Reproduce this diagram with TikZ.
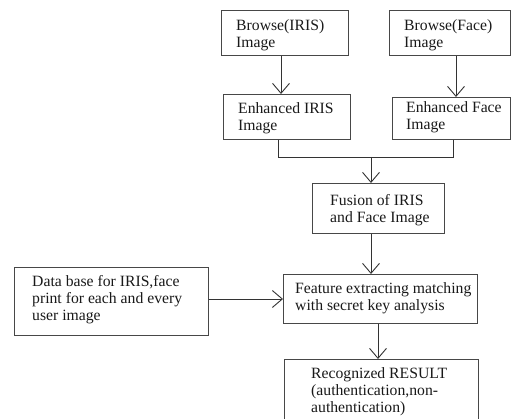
\documentclass[tikz,border=0pt]{standalone}
\usepackage{fontspec}
\setmainfont{Liberation Serif}
\usetikzlibrary{arrows.meta}
\begin{document}
\begin{tikzpicture}[x=1pt,y=-1pt,
  box/.style={draw=black!72, line width=1pt, inner sep=0pt, anchor=north west},
  label/.style={anchor=north west, inner sep=0pt, align=left,
    font=\fontsize{15.7pt}{17pt}\selectfont, text=black!90},
  link/.style={draw=black!80, line width=0.9pt},
  arr/.style={link, -{Straight Barb[length=10pt, width=17pt]}}]
\useasboundingbox (0,0) rectangle (511,419);

% boxes
\node[box, minimum width=127pt, minimum height=45pt] (bi) at (221,10) {};
\node[box, minimum width=121pt, minimum height=45pt] (bf) at (389,10) {};
\node[box, minimum width=127pt, minimum height=45pt] (ei) at (223,94) {};
\node[box, minimum width=118pt, minimum height=42pt] (ef) at (392,97) {};
\node[box, minimum width=132pt, minimum height=50pt] (fu) at (312,183) {};
\node[box, minimum width=194pt, minimum height=49pt] (fe) at (283,274) {};
\node[box, minimum width=194pt, minimum height=68pt] (db) at (14,267) {};
\node[box, minimum width=194pt, minimum height=75pt] (re) at (284,359) {};

% box texts
\node[label] (tbi) at (236,19.5) {Browse(IRIS)\\Image};
\node[label] (tbf) at (404,19.5) {Browse(Face)\\Image};
\node[label] (tei) at (238,102.5) {Enhanced IRIS\\Image};
\node[label] (tef) at (406,101.5) {Enhanced Face\\Image};
\node[label] (tfu) at (330,194.5) {Fusion of IRIS\\and Face Image};
\node[label] (tfe) at (295,282.5) {Feature extracting matching\\with secret key analysis};
\node[label] (tdb) at (32,275.5) {Data base for IRIS,face\\print for each and every\\user image};
\node[label] (tre) at (311,367.5) {Recognized RESULT\\(authentication,non-\\authentication)};

% connectors
\coordinate (jl) at ([xshift=55pt]ei.south west |- 0,157);
\coordinate (jr) at ([xshift=61pt]ef.south west |- 0,157);
\coordinate (jm) at ([xshift=59pt]fu.north west |- 0,157);

\draw[arr] ([xshift=60pt]bi.south west) -- ([xshift=60pt]bi.south west |- ei.north);
\draw[arr] ([xshift=67pt]bf.south west) -- ([xshift=67pt]bf.south west |- ef.north);
\draw[link] ([xshift=55pt]ei.south west) -- (jl) -- (jr) -- ([xshift=61pt]ef.south west);
\draw[arr] (jm) -- ([xshift=59pt]fu.north west);
\draw[arr] ([xshift=59pt]fu.south west) -- ([xshift=59pt]fu.south west |- fe.north);
\draw[arr] (db.east |- fe.west) -- (fe.west);
\draw[arr] ([xshift=95pt]fe.south west) -- ([xshift=95pt]fe.south west |- re.north);
\end{tikzpicture}
\end{document}
